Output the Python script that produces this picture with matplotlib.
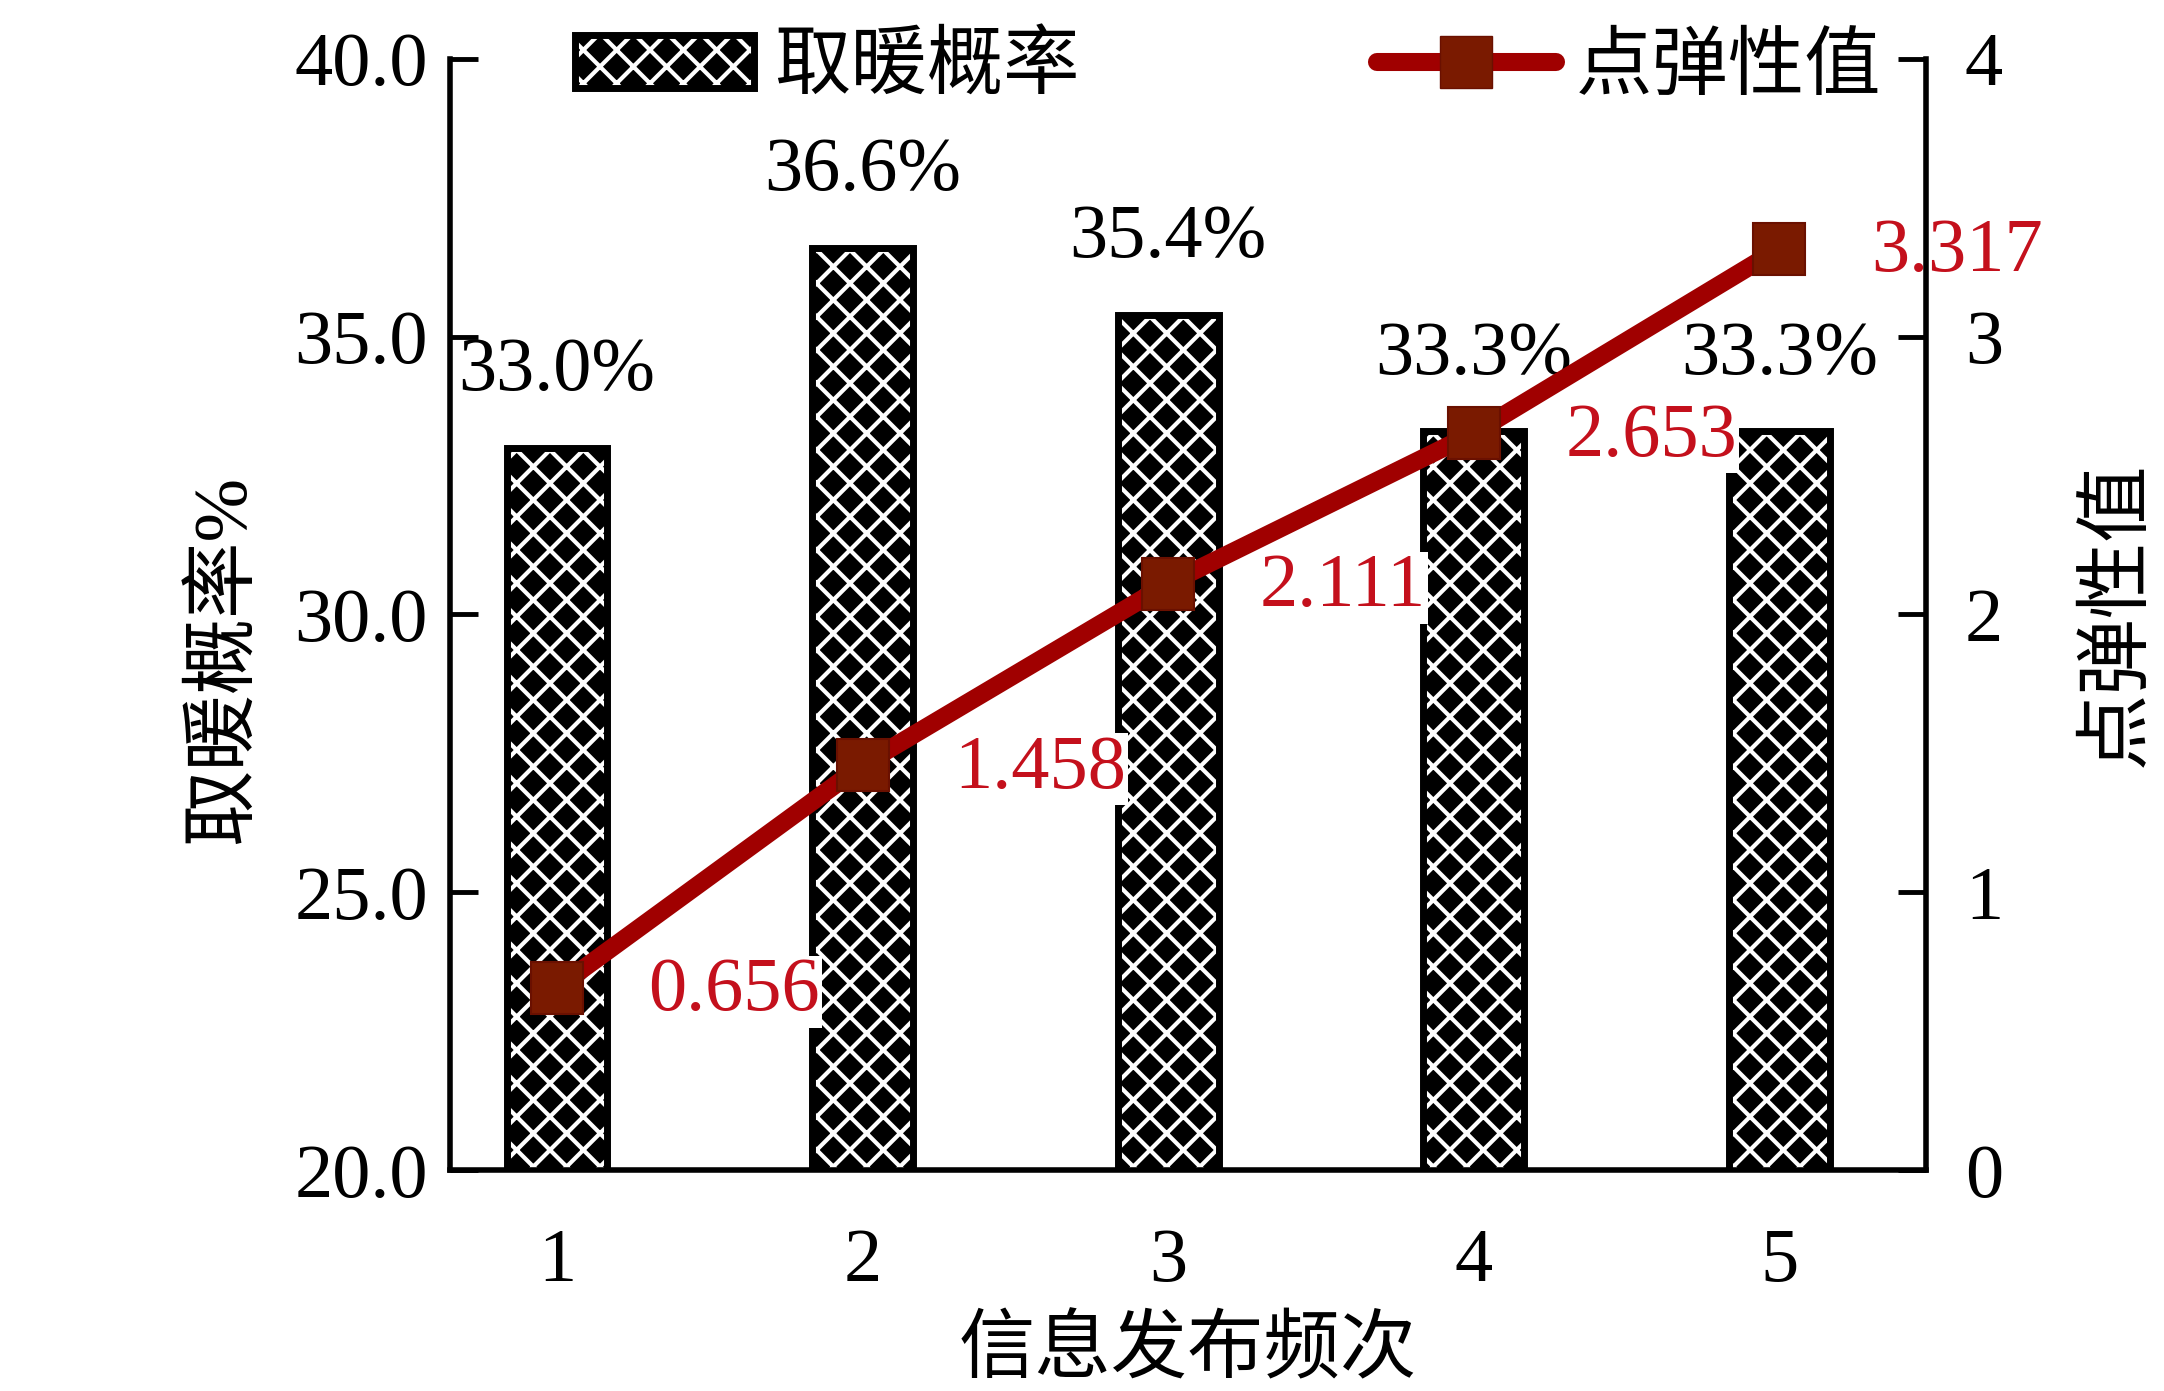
import matplotlib
matplotlib.use('Agg')
import matplotlib.pyplot as plt
from matplotlib.patches import Patch
from matplotlib.lines import Line2D
from matplotlib.legend_handler import HandlerTuple

plt.rcParams['font.family'] = ['Liberation Serif', 'Noto Sans CJK SC']
plt.rcParams['hatch.linewidth'] = 3.0

# data
freq = [1, 2, 3, 4, 5]
heat_prob = [33.0, 36.6, 35.4, 33.3, 33.3]
elasticity = [0.656, 1.458, 2.111, 2.653, 3.317]
bar_labels = ['33.0%', '36.6%', '35.4%', '33.3%', '33.3%']
left_ticks = [20, 25, 30, 35, 40]
right_ticks = [0, 1, 2, 3, 4]

FS = 55
line_color = '#a00000'
marker_color = '#7a1a00'
label_red = '#c4101c'

fig = plt.figure(figsize=(21.64, 13.91), dpi=100)
ax = fig.add_axes([450 / 2164, 1 - 1170 / 1391, 1476 / 2164, 1111 / 1391])
ax2 = ax.twinx()

# bars: black with white lattice, then a black outline on top
ax.bar(freq, heat_prob, width=0.33, bottom=0, color='black', edgecolor='white',
       hatch='x', linewidth=0, zorder=2)
ax.bar(freq, heat_prob, width=0.33, bottom=0, facecolor='none', edgecolor='black',
       linewidth=5, zorder=2.1)

for x, y, s in zip(freq, heat_prob, bar_labels):
    ax.annotate(s, (x, y), xytext=(0, 30), textcoords='offset points',
                ha='center', va='bottom', fontsize=FS)

ax.set_xlim(0.65, 5.48)
ax.set_ylim(20, 40)
ax.set_yticks(left_ticks)
ax.set_yticklabels([f'{t:.1f}' for t in left_ticks])
ax.set_xticks(freq)

ax2.plot(freq, elasticity, color=line_color, linewidth=13, marker='s',
         markersize=37, markerfacecolor=marker_color, markeredgecolor='#6a1000',
         markeredgewidth=1.5, zorder=3)
for x, y in zip(freq, elasticity):
    ax2.annotate(f'{y:.3f}', (x, y), xytext=(66, -3), textcoords='offset points',
                 ha='left', va='center', fontsize=FS, color=label_red, zorder=2.2,
                 bbox=dict(boxstyle='square,pad=0.02', fc='white', ec='none'))
ax2.set_ylim(0, 4)
ax2.set_yticks(right_ticks)

for a in (ax, ax2):
    a.spines['top'].set_visible(False)
    for s in a.spines.values():
        s.set_linewidth(4)
ax.spines['right'].set_visible(False)
ax2.spines['left'].set_visible(False)
ax2.spines['bottom'].set_visible(False)

ax.tick_params(axis='y', direction='in', length=20, width=3.5, labelsize=FS, pad=16)
ax.tick_params(axis='x', length=0, labelsize=FS, pad=42)
ax2.tick_params(axis='y', direction='in', length=20, width=3.5, labelsize=FS, pad=28)

ax.set_xlabel('信息发布频次', fontsize=FS, labelpad=14)
ax.set_ylabel('取暖概率%', fontsize=FS)
ax.yaxis.set_label_coords(-0.128, 0.46)
ax2.set_ylabel('点弹性值', fontsize=FS, rotation=90)
ax2.yaxis.set_label_coords(1.107, 0.5)

bar_handle = (Patch(facecolor='black', edgecolor='white', hatch='x', linewidth=0),
              Patch(facecolor='none', edgecolor='black', linewidth=5))
line_handle = Line2D([], [], color=line_color, linewidth=13, marker='s', markersize=37,
                     markerfacecolor=marker_color, markeredgecolor='#6a1000',
                     solid_capstyle='round')
ax2.legend([bar_handle, line_handle], ['取暖概率', '点弹性值'],
           handler_map={tuple: HandlerTuple(ndivide=1, pad=0)},
           loc='center left', bbox_to_anchor=(0.0847, 0.991), ncol=2, frameon=False,
           fontsize=FS, handlelength=2.34, handleheight=0.7, handletextpad=0.26,
           columnspacing=3.9, borderpad=0, borderaxespad=0, numpoints=1)

fig.savefig('out.png', dpi=100)
